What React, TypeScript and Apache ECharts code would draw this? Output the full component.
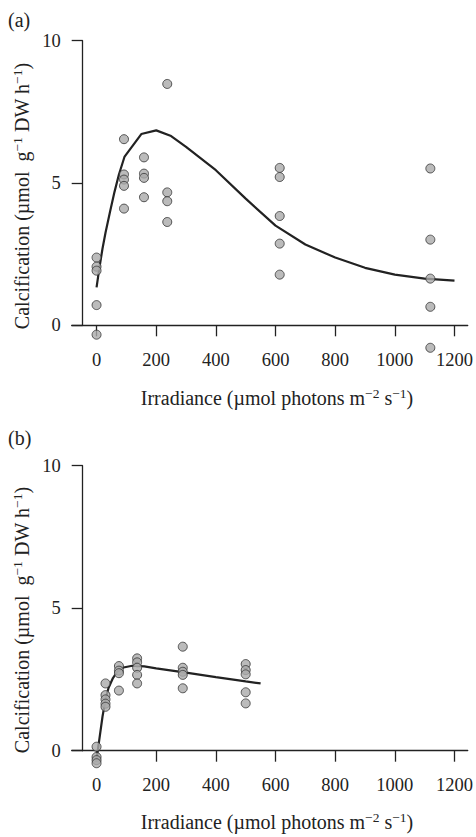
import React, { useEffect, useRef } from "react";
import * as echarts from "echarts";

const FONT = '"Liberation Serif", "Times New Roman", serif';
const INK = "#222222";

// x tick labels (both panels)
const X_TICKS = [0, 200, 400, 600, 800, 1000, 1200];

// Panel (a): irradiance levels and replicate calcification values
const A_IRR = [0, 92, 159, 237, 614, 1119];
const A_CALC = [
  [2.38, 2.06, 1.92, 0.71, -0.33],
  [6.54, 5.3, 5.12, 4.9, 4.1],
  [5.9, 5.33, 5.18, 4.5],
  [8.48, 4.67, 4.36, 3.63],
  [5.53, 5.21, 3.84, 2.87, 1.78],
  [5.51, 3.01, 1.64, 0.65, -0.79],
];
// Panel (a) fitted curve
const A_FIT_X = [0, 10, 20, 30, 45, 60, 75, 94, 150, 200, 250, 300, 400, 500, 600, 700, 800, 900, 1000, 1100, 1200];
const A_FIT_Y = [1.33, 2.05, 2.7, 3.25, 3.98, 4.68, 5.3, 5.93, 6.72, 6.85, 6.65, 6.27, 5.45, 4.45, 3.5, 2.84, 2.38, 2.02, 1.78, 1.64, 1.57];

// Panel (b)
const B_IRR = [0, 30, 75, 136, 289, 500];
const B_CALC = [
  [0.14, -0.22, -0.33, -0.44],
  [2.36, 1.95, 1.8, 1.65, 1.54],
  [2.97, 2.81, 2.72, 2.11],
  [3.24, 3.1, 2.91, 2.66, 2.36],
  [3.65, 2.91, 2.77, 2.66, 2.19],
  [3.04, 2.83, 2.68, 2.05, 1.66],
];
const B_FIT_X = [0, 10, 20, 30, 40, 55, 70, 90, 120, 160, 200, 300, 400, 500, 550];
const B_FIT_Y = [-0.3, 0.45, 1.2, 1.8, 2.2, 2.55, 2.78, 2.92, 2.98, 2.96, 2.89, 2.74, 2.58, 2.43, 2.36];

const Y_TITLE = "{n|Calcification (µmol  g}{s|−1}{n| DW h}{s|−1}{n|)}";
const X_TITLE = "{n|Irradiance (µmol photons m}{s|−2}{n| s}{s|−1}{n|)}";

const rich = {
  n: { fontSize: 20, fontFamily: FONT, fill: INK, lineHeight: 26 },
  s: { fontSize: 13.5, fontFamily: FONT, fill: INK, lineHeight: 26, padding: [0, 0, 10, 0] },
};

function scatterData(xs: number[], ys: number[][]) {
  const out: number[][] = [];
  xs.forEach((x, i) => ys[i].forEach((y) => out.push([x, y])));
  return out;
}
function lineData(xs: number[], ys: number[]) {
  return xs.map((x, i) => [x, ys[i]]);
}

export default function App() {
  const ref = useRef<HTMLDivElement>(null);
  useEffect(() => {
    document.body.style.margin = "0";
    const chart = echarts.init(ref.current!, null, { renderer: "svg" });
    const axisLine = { show: true, onZero: false, lineStyle: { color: INK, width: 1.3 } };
    const mkX = (gi: number) => ({
      gridIndex: gi,
      type: "value",
      min: -83.33,
      max: 1244.33,
      axisLine,
      axisTick: { show: true, customValues: X_TICKS, length: 11, lineStyle: { color: INK, width: 1.3 } },
      axisLabel: {
        customValues: X_TICKS,
        margin: 25,
        fontSize: 18.5,
        fontFamily: FONT,
        color: INK,
        formatter: (v: number) => String(v),
      },
      splitLine: { show: false },
    });
    const mkY = (gi: number) => ({
      gridIndex: gi,
      type: "value",
      min: 0,
      max: 10,
      interval: 5,
      offset: -11,
      axisLine,
      axisTick: { show: true, length: 11, lineStyle: { color: INK, width: 1.3 } },
      axisLabel: { margin: 22, fontSize: 18.5, fontFamily: FONT, color: INK, formatter: (v: number) => String(v) },
      splitLine: { show: false },
    });
    const pointStyle = { color: "#aaaaaa", borderColor: "#333333", borderWidth: 1 };
    chart.setOption({
      animation: false,
      grid: [
        { left: 71.7, top: 40.7, width: 398.3, height: 284.6 },
        { left: 71.7, top: 465.7, width: 398.3, height: 285 },
      ],
      xAxis: [mkX(0), mkX(1)],
      yAxis: [mkY(0), mkY(1)],
      series: [
        {
          type: "line",
          xAxisIndex: 0,
          yAxisIndex: 0,
          data: lineData(A_FIT_X, A_FIT_Y),
          showSymbol: false,
          lineStyle: { color: INK, width: 2.2 },
          z: 2,
        },
        {
          type: "scatter",
          xAxisIndex: 0,
          yAxisIndex: 0,
          data: scatterData(A_IRR, A_CALC),
          symbolSize: 9,
          itemStyle: pointStyle,
          clip: false,
          z: 3,
        },
        {
          type: "line",
          xAxisIndex: 1,
          yAxisIndex: 1,
          data: lineData(B_FIT_X, B_FIT_Y),
          showSymbol: false,
          lineStyle: { color: INK, width: 2.2 },
          clip: false,
          z: 2,
        },
        {
          type: "scatter",
          xAxisIndex: 1,
          yAxisIndex: 1,
          data: scatterData(B_IRR, B_CALC),
          symbolSize: 9,
          itemStyle: pointStyle,
          clip: false,
          z: 3,
        },
      ],
      graphic: [
        { type: "text", x: 8, y: 20, style: { text: "(a)", fontSize: 20, fontFamily: FONT, fill: INK, align: "left", verticalAlign: "middle" } },
        { type: "text", x: 8, y: 438, style: { text: "(b)", fontSize: 20, fontFamily: FONT, fill: INK, align: "left", verticalAlign: "middle" } },
        { type: "text", x: 22, y: 196, rotation: Math.PI / 2, style: { text: Y_TITLE, rich, align: "center", verticalAlign: "middle" } },
        { type: "text", x: 22, y: 620, rotation: Math.PI / 2, style: { text: Y_TITLE, rich, align: "center", verticalAlign: "middle" } },
        { type: "text", x: 277, y: 398, style: { text: X_TITLE, rich, align: "center", verticalAlign: "middle" } },
        { type: "text", x: 277, y: 822, style: { text: X_TITLE, rich, align: "center", verticalAlign: "middle" } },
      ],
    });
    return () => chart.dispose();
  }, []);
  return <div ref={ref} style={{ width: 476, height: 837 }} />;
}
